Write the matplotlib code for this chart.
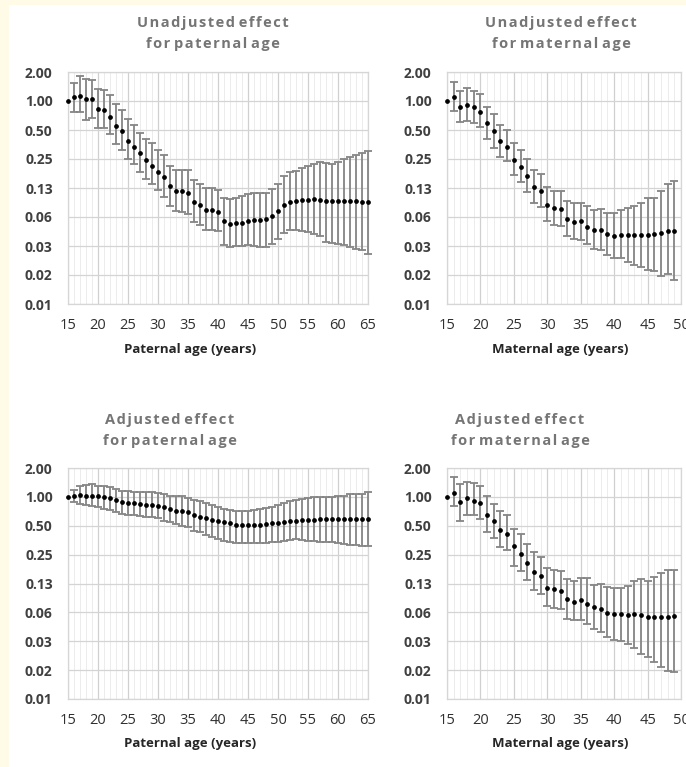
import numpy as np
import matplotlib
matplotlib.use("Agg")
import matplotlib.pyplot as plt
from matplotlib.patches import Rectangle
from matplotlib.ticker import FixedLocator, FixedFormatter, MultipleLocator

# ---------------- data ----------------
paternal_age = list(range(15, 66))
maternal_age = list(range(15, 50))

ytick_values = [2**-7, 2**-6, 2**-5, 2**-4, 2**-3, 2**-2, 2**-1, 1, 2]
ytick_labels = ["0.01", "0.02", "0.03", "0.06", "0.13", "0.25", "0.50", "1.00", "2.00"]

pat_unadj = [1.00, 1.10, 1.14, 1.04, 1.04, 0.83, 0.81, 0.69, 0.55, 0.49,
             0.385, 0.335, 0.29, 0.242, 0.212, 0.185, 0.163, 0.131, 0.117, 0.117,
             0.110, 0.0894, 0.0826, 0.0745, 0.0745, 0.0702, 0.0567, 0.0532, 0.0545, 0.0545,
             0.0567, 0.0576, 0.0576, 0.059, 0.064, 0.072, 0.0823, 0.089, 0.091, 0.0928,
             0.0943, 0.0958, 0.0943, 0.091, 0.091, 0.091, 0.091, 0.091, 0.091, 0.090, 0.089]
pat_unadj_lo = [None, 0.76, 0.76, 0.64, 0.67, 0.53, 0.52, 0.45, 0.355, 0.31,
                0.25, 0.22, 0.183, 0.156, 0.139, 0.118, 0.101, 0.081, 0.072, 0.0705,
                0.0666, 0.0554, 0.0512, 0.0462, 0.0455, 0.0443, 0.0322, 0.0305, 0.0312, 0.0312,
                0.0317, 0.0315, 0.0305, 0.0305, 0.033, 0.0372, 0.0426, 0.046, 0.0454, 0.0447,
                0.0436, 0.0419, 0.0393, 0.0343, 0.0335, 0.033, 0.0317, 0.0305, 0.0293, 0.0282, 0.026]
pat_unadj_hi = [None, 1.54, 1.82, 1.69, 1.67, 1.34, 1.31, 1.16, 0.93, 0.81,
                0.645, 0.57, 0.47, 0.406, 0.364, 0.308, 0.273, 0.213, 0.192, 0.192,
                0.19, 0.150, 0.139, 0.126, 0.126, 0.119, 0.099, 0.095, 0.099, 0.103,
                0.109, 0.110, 0.110, 0.110, 0.122, 0.138, 0.168, 0.185, 0.189, 0.202,
                0.213, 0.222, 0.231, 0.227, 0.222, 0.231, 0.25, 0.26, 0.277, 0.286, 0.305]

mat_unadj = [1.00, 1.11, 0.86, 0.917, 0.866, 0.775, 0.586, 0.484, 0.381, 0.336,
             0.244, 0.206, 0.165, 0.129, 0.117, 0.0833, 0.0769, 0.075, 0.060, 0.0554,
             0.0568, 0.0497, 0.0458, 0.0458, 0.0420, 0.0397, 0.041, 0.041, 0.041, 0.041,
             0.041, 0.042, 0.043, 0.0444, 0.0444]
mat_unadj_lo = [None, 0.79, 0.60, 0.625, 0.596, 0.533, 0.403, 0.328, 0.26, 0.236,
                0.169, 0.143, 0.113, 0.0866, 0.0794, 0.0564, 0.0516, 0.0504, 0.0397, 0.0369,
                0.0364, 0.0325, 0.0291, 0.0282, 0.0252, 0.0233, 0.0233, 0.0215, 0.0199, 0.0191,
                0.0176, 0.0173, 0.0154, 0.016, 0.0139]
mat_unadj_hi = [None, 1.59, 1.28, 1.35, 1.28, 1.18, 0.874, 0.727, 0.568, 0.50,
                0.366, 0.308, 0.248, 0.194, 0.176, 0.128, 0.115, 0.115, 0.0922, 0.0866,
                0.0866, 0.082, 0.0737, 0.0755, 0.0693, 0.0693, 0.0737, 0.078, 0.082, 0.088,
                0.0976, 0.099, 0.117, 0.137, 0.147]

pat_adj = [1.00, 1.02, 1.05, 1.03, 1.03, 1.01, 0.99, 0.97, 0.938, 0.894,
           0.866, 0.866, 0.845, 0.832, 0.825, 0.812, 0.78, 0.75, 0.72, 0.708,
           0.69, 0.654, 0.623, 0.604, 0.58, 0.566, 0.544, 0.531, 0.51, 0.51,
           0.51, 0.51, 0.514, 0.523, 0.531, 0.535, 0.544, 0.557, 0.566, 0.575,
           0.58, 0.58, 0.585, 0.585, 0.585, 0.585, 0.585, 0.585, 0.585, 0.585, 0.585]
pat_adj_lo = [None, 0.894, 0.845, 0.825, 0.812, 0.78, 0.75, 0.73, 0.69, 0.665,
              0.65, 0.64, 0.628, 0.613, 0.613, 0.60, 0.566, 0.544, 0.523, 0.502,
              0.482, 0.445, 0.428, 0.401, 0.379, 0.364, 0.35, 0.336, 0.331, 0.328,
              0.328, 0.328, 0.331, 0.331, 0.336, 0.342, 0.35, 0.359, 0.364, 0.359,
              0.35, 0.345, 0.342, 0.342, 0.336, 0.328, 0.323, 0.318, 0.315, 0.31, 0.305]
pat_adj_hi = [None, 1.18, 1.31, 1.33, 1.37, 1.31, 1.31, 1.26, 1.21, 1.16,
              1.16, 1.137, 1.137, 1.119, 1.119, 1.10, 1.066, 1.03, 1.03, 1.01,
              0.976, 0.938, 0.90, 0.866, 0.832, 0.79, 0.75, 0.732, 0.708, 0.708,
              0.72, 0.732, 0.75, 0.768, 0.79, 0.825, 0.866, 0.90, 0.938, 0.953,
              0.968, 0.99, 0.99, 1.00, 1.00, 1.01, 1.03, 1.06, 1.075, 1.075, 1.12]

mat_adj = [1.00, 1.10, 0.88, 0.969, 0.916, 0.866, 0.655, 0.559, 0.454, 0.413,
           0.305, 0.256, 0.206, 0.165, 0.148, 0.113, 0.109, 0.104, 0.086, 0.0808,
           0.0833, 0.0756, 0.0705, 0.0683, 0.062, 0.0597, 0.060, 0.0587, 0.060, 0.0587,
           0.0564, 0.0564, 0.056, 0.056, 0.0568]
mat_adj_lo = [None, 0.794, 0.563, 0.65, 0.64, 0.582, 0.43, 0.372, 0.30, 0.277,
              0.192, 0.169, 0.136, 0.108, 0.097, 0.0733, 0.0688, 0.067, 0.053, 0.052,
              0.0525, 0.0473, 0.0416, 0.039, 0.035, 0.0323, 0.0315, 0.029, 0.0268, 0.0231,
              0.0215, 0.0192, 0.0168, 0.0154, 0.0149]
mat_adj_hi = [None, 1.60, 1.35, 1.42, 1.40, 1.31, 1.03, 0.846, 0.721, 0.65,
              0.465, 0.41, 0.325, 0.267, 0.236, 0.182, 0.172, 0.168, 0.139, 0.133,
              0.143, 0.141, 0.12, 0.124, 0.115, 0.111, 0.113, 0.117, 0.132, 0.139,
              0.132, 0.147, 0.159, 0.172, 0.172]

titles = [("Unadjusted effect", "for paternal age"),
          ("Unadjusted effect", "for maternal age"),
          ("Adjusted effect", "for paternal age"),
          ("Adjusted effect", "for maternal age")]
xlabels = ["Paternal age (years)", "Maternal age (years)",
           "Paternal age (years)", "Maternal age (years)"]

# ---------------- figure ----------------
W, H = 686, 767
fig = plt.figure(figsize=(W / 100, H / 100), dpi=100, facecolor="white")
FONT = ["Open Sans", "DejaVu Sans"]
HAIR = "\u200a"


def spaced(s):
    # widen letter spacing like the original chart titles
    return " ".join(HAIR.join(word) for word in s.split(" "))


# pale yellow frame at left and top
fig.patches.append(Rectangle((0, 0), 9 / W, 1, transform=fig.transFigure,
                             facecolor="#fffbe6", edgecolor="none", zorder=0))
fig.patches.append(Rectangle((0, 1 - 5 / H), 1, 5 / H, transform=fig.transFigure,
                             facecolor="#fffbe6", edgecolor="none", zorder=0))


def ax_px(x0, x1, y0, y1):
    return fig.add_axes([x0 / W, 1 - y1 / H, (x1 - x0) / W, (y1 - y0) / H])


panels = [
    dict(box=(68, 368, 72, 304), x=paternal_age, y=pat_unadj, lo=pat_unadj_lo, hi=pat_unadj_hi,
         xmax=65, tpos=(213, 23, 44), xl=190),
    dict(box=(447, 681, 72, 304), x=maternal_age, y=mat_unadj, lo=mat_unadj_lo, hi=mat_unadj_hi,
         xmax=50, tpos=(561, 23, 44), xl=560),
    dict(box=(68, 368, 468, 699), x=paternal_age, y=pat_adj, lo=pat_adj_lo, hi=pat_adj_hi,
         xmax=65, tpos=(170, 420, 441), xl=190),
    dict(box=(447, 681, 468, 699), x=maternal_age, y=mat_adj, lo=mat_adj_lo, hi=mat_adj_hi,
         xmax=50, tpos=(520, 420, 441), xl=560),
]

for i, p in enumerate(panels):
    x0, x1, y0, y1 = p["box"]
    ax = ax_px(x0, x1, y0, y1)
    ax.set_facecolor("white")
    ax.set_yscale("log", base=2)
    ax.set_ylim(2**-7, 2)
    ax.set_xlim(15, p["xmax"])

    x = np.array(p["x"], dtype=float)
    y = np.array(p["y"], dtype=float)
    lo = np.array([np.nan if v is None else v for v in p["lo"]], dtype=float)
    hi = np.array([np.nan if v is None else v for v in p["hi"]], dtype=float)
    m = ~np.isnan(lo)
    ax.errorbar(x[m], y[m], yerr=[y[m] - lo[m], hi[m] - y[m]], fmt="none",
                ecolor="#858585", elinewidth=1.3, capsize=2.6, capthick=1.3, zorder=3,
                clip_on=False)
    ax.plot(x, y, "o", color="black", markersize=2.4, zorder=4, clip_on=False)

    # grid
    ax.yaxis.set_major_locator(FixedLocator(ytick_values))
    ax.yaxis.set_major_formatter(FixedFormatter(ytick_labels))
    ax.yaxis.set_minor_locator(FixedLocator([]))
    ax.xaxis.set_major_locator(MultipleLocator(5))
    ax.xaxis.set_minor_locator(MultipleLocator(1))
    ax.grid(True, which="major", axis="y", color="#d4d4d4", linewidth=0.9)
    ax.grid(True, which="major", axis="x", color="#d0d0d0", linewidth=0.9)
    ax.grid(True, which="minor", axis="x", color="#ececec", linewidth=0.7)
    ax.set_axisbelow(True)
    for s in ax.spines.values():
        s.set_color("#d6d6d6")
        s.set_linewidth(0.9)

    ax.tick_params(axis="both", which="both", length=0)
    ax.tick_params(axis="y", pad=11)
    ax.tick_params(axis="x", pad=10)
    for lab in ax.get_yticklabels():
        lab.set_fontfamily(FONT)
        lab.set_fontweight("bold")
        lab.set_fontsize(10)
        lab.set_color("#404040")
    for lab in ax.get_xticklabels():
        lab.set_fontfamily(FONT)
        lab.set_fontsize(10.5)
        lab.set_color("#303030")

    ax.set_xlabel(xlabels[i], fontsize=9.5, fontweight="bold", color="#262626",
                  family=FONT)
    ax.xaxis.set_label_coords((p["xl"] - x0) / (x1 - x0), -45 / (y1 - y0))
    ax.xaxis.label.set_va("center")

    tx, ty1, ty2 = p["tpos"]
    fig.text(tx / W, 1 - ty1 / H, spaced(titles[i][0]), ha="center", va="center",
             fontsize=10.5, fontweight="bold", color="#757575", family=FONT)
    fig.text(tx / W, 1 - ty2 / H, spaced(titles[i][1]), ha="center", va="center",
             fontsize=10.5, fontweight="bold", color="#757575", family=FONT)

fig.savefig("out.png", dpi=100, facecolor="white")
